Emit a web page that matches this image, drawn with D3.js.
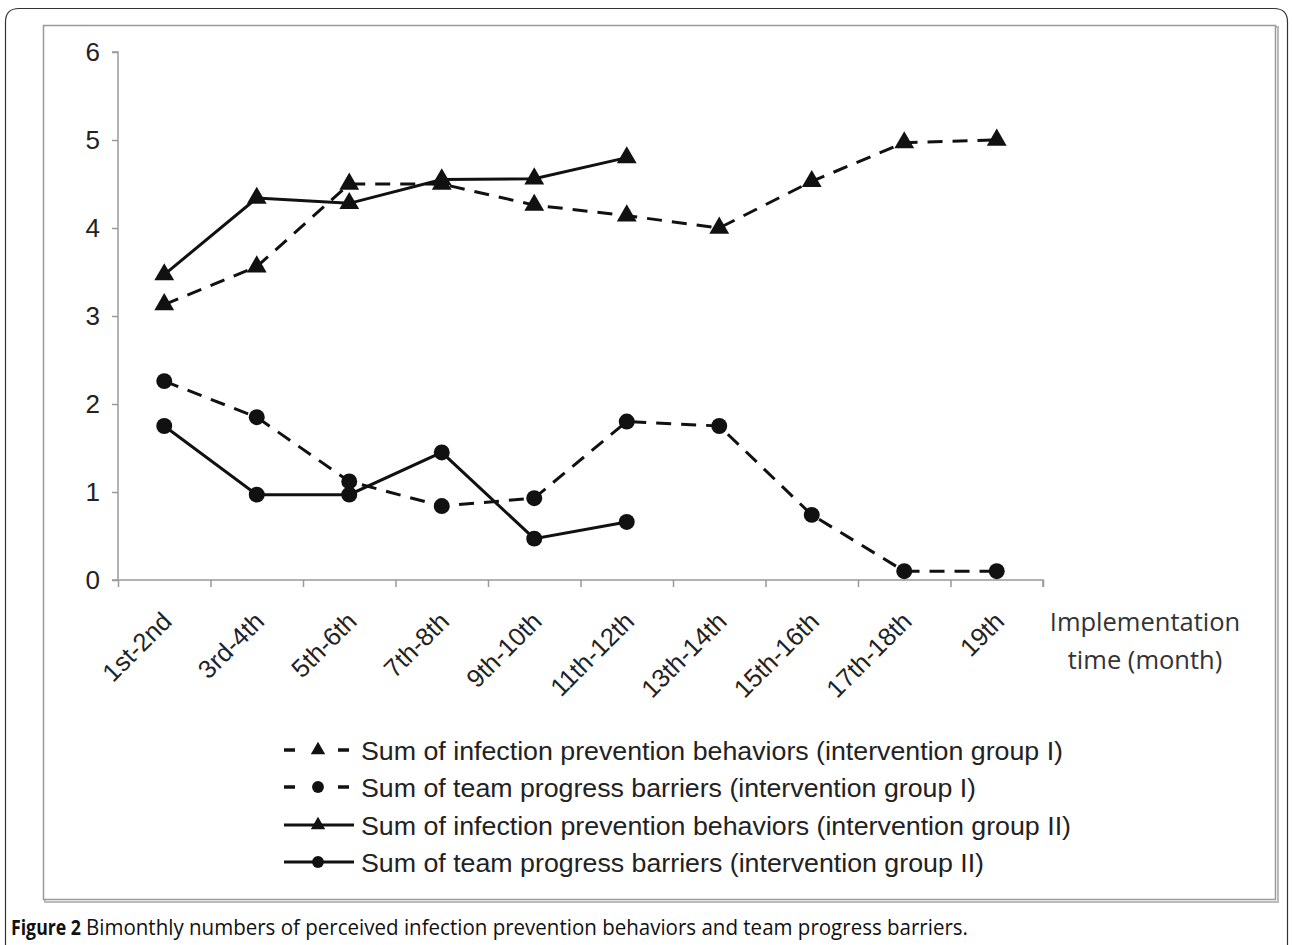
<!DOCTYPE html>
<html><head><meta charset="utf-8">
<script src="https://cdn.jsdelivr.net/npm/d3@7"></script>
<style>
html,body{margin:0;padding:0;background:#fff;}
svg{display:block;}
</style></head>
<body>
<script>
const categories = ["1st-2nd","3rd-4th","5th-6th","7th-8th","9th-10th","11th-12th","13th-14th","15th-16th","17th-18th","19th"];
const yTicks = [0,1,2,3,4,5,6];
const behaviorsGroupI = [3.13, 3.56, 4.50, 4.50, 4.26, 4.14, 4.00, 4.53, 4.97, 5.00];
const barriersGroupI  = [2.26, 1.85, 1.12, 0.84, 0.93, 1.80, 1.75, 0.74, 0.10, 0.10];
const behaviorsGroupII = [3.47, 4.34, 4.28, 4.55, 4.56, 4.80];
const barriersGroupII  = [1.75, 0.97, 0.97, 1.45, 0.47, 0.66];
const seriesNames = [
  "Sum of infection prevention behaviors (intervention group I)",
  "Sum of team progress barriers (intervention group I)",
  "Sum of infection prevention behaviors (intervention group II)",
  "Sum of team progress barriers (intervention group II)"
];
const xTitle = ["Implementation","time (month)"];
const captionBold = "Figure 2";
const captionText = "Bimonthly numbers of perceived infection prevention behaviors and team progress barriers.";

const series = [
  {name: seriesNames[0], values: behaviorsGroupI, dashed: true, marker: d3.symbolTriangle, len: 702},
  {name: seriesNames[1], values: barriersGroupI, dashed: true, marker: d3.symbolCircle, len: 615},
  {name: seriesNames[2], values: behaviorsGroupII, dashed: false, marker: d3.symbolTriangle, len: 710},
  {name: seriesNames[3], values: barriersGroupII, dashed: false, marker: d3.symbolCircle, len: 623}
];

const W = 1292, H = 945;
const svg = d3.select("body").append("svg").attr("width", W).attr("height", H);

// outer frame (rounded top, open bottom)
svg.append("path")
  .attr("d", `M5.5,${H} L5.5,22 Q5.5,8.5 19,8.5 L1274,8.5 Q1287.5,8.5 1287.5,22 L1287.5,${H}`)
  .attr("fill","none").attr("stroke","#333").attr("stroke-width",1.2);

// inner chart box with slight shadow
svg.append("rect").attr("x",45).attr("y",27).attr("width",1233).attr("height",875)
  .attr("fill","none").attr("stroke","#bbb").attr("stroke-width",2);
svg.append("rect").attr("x",43.5).attr("y",25.5).attr("width",1232).attr("height",874)
  .attr("fill","#fff").attr("stroke","#999").attr("stroke-width",1.5);

const x0 = 118, x1 = 1043, yTop = 52, yBot = 580;
const xBand = d3.scaleBand().domain(categories).range([x0, x1]);
const xLin = d3.scaleLinear().domain([0, categories.length]).range([x0, x1]);
const y = d3.scaleLinear().domain([0, 6]).range([yBot, yTop]);
const xc = i => xBand(categories[i]) + xBand.bandwidth()/2;

// y axis
const yAxis = svg.append("g").attr("transform",`translate(${x0},0)`)
  .call(d3.axisLeft(y).tickValues(yTicks).tickSize(6).tickPadding(12).tickFormat(d3.format("d")));
yAxis.select(".domain").attr("stroke","#999").attr("stroke-width",1.5).attr("d",`M-6,${yTop}H0V${yBot}`);
yAxis.selectAll(".tick line").attr("stroke","#999").attr("stroke-width",1.5);
yAxis.selectAll(".tick text").attr("font-family","Liberation Sans, Arial, sans-serif").attr("font-size",26).attr("fill","#222");

// x axis (ticks at band boundaries)
const xAxis = svg.append("g").attr("transform",`translate(0,${yBot})`)
  .call(d3.axisBottom(xLin).tickValues(d3.range(0, categories.length+1)).tickSize(7).tickFormat(""));
xAxis.select(".domain").attr("stroke","#999").attr("stroke-width",1.5).attr("d",`M${x0-6},0H${x1}V7`);
xAxis.selectAll(".tick line").attr("stroke","#999").attr("stroke-width",1.5);

// category labels rotated
svg.append("g").selectAll("text").data(categories).join("text")
  .attr("transform",(d,i)=>`translate(${xc(i)+9},${yBot+43}) rotate(-45)`)
  .attr("text-anchor","end")
  .attr("font-family","Liberation Sans, Arial, sans-serif").attr("font-size",25.5).attr("fill","#222")
  .text(d=>d);

// x title
svg.append("text").attr("x",1145).attr("y",631).attr("text-anchor","middle")
  .attr("font-family","Open Sans, Lato, sans-serif").attr("font-size",25.5).attr("fill","#333")
  .selectAll("tspan").data(xTitle).join("tspan").attr("x",1145).attr("dy",(d,i)=>i?38:0).text(d=>d);

// lines
const line = d3.line().x((d,i)=>xc(i)).y(d=>y(d));
const g = svg.append("g");
series.forEach(s=>{
  g.append("path").datum(s.values).attr("d",line).attr("fill","none")
    .attr("stroke","#111").attr("stroke-width",3)
    .attr("stroke-dasharray", s.dashed ? "15,10" : null);
});
series.forEach(s=>{
  g.selectAll(null).data(s.values).join("path")
    .attr("transform",(d,i)=>`translate(${xc(i)},${y(d)})`)
    .attr("d", d3.symbol().type(s.marker).size(s.marker===d3.symbolTriangle?170:200))
    .attr("fill","#111");
});

// legend
const lg = svg.append("g");
const legY = [750, 787, 825, 862];
series.forEach((s,k)=>{
  const yy = legY[k];
  if (s.dashed) {
    lg.append("line").attr("x1",284).attr("x2",295).attr("y1",yy).attr("y2",yy).attr("stroke","#111").attr("stroke-width",3.5);
    lg.append("line").attr("x1",338).attr("x2",349).attr("y1",yy).attr("y2",yy).attr("stroke","#111").attr("stroke-width",3.5);
  } else {
    lg.append("line").attr("x1",284).attr("x2",354).attr("y1",yy).attr("y2",yy).attr("stroke","#111").attr("stroke-width",3);
  }
  lg.append("path").attr("transform",`translate(318,${yy})`)
    .attr("d", d3.symbol().type(s.marker).size(s.marker===d3.symbolTriangle?90:110)).attr("fill","#111");
  lg.append("text").attr("x",361).attr("y",yy+9.5)
    .attr("font-family","Liberation Sans, Arial, sans-serif").attr("font-size",26.5).attr("fill","#222")
    .attr("textLength", s.len).attr("lengthAdjust","spacingAndGlyphs")
    .text(s.name);
});

// caption
svg.append("text").attr("x",11).attr("y",935)
  .attr("font-family","Liberation Sans Narrow, Open Sans, sans-serif").attr("font-size",21).attr("font-weight","bold").attr("fill","#111")
  .attr("textLength",70).attr("lengthAdjust","spacingAndGlyphs")
  .text(captionBold);
svg.append("text").attr("x",86).attr("y",935)
  .attr("font-family","Liberation Sans Narrow, Open Sans, sans-serif").attr("font-size",21).attr("fill","#111")
  .attr("textLength",882).attr("lengthAdjust","spacingAndGlyphs")
  .text(captionText);
</script>
</body></html>
